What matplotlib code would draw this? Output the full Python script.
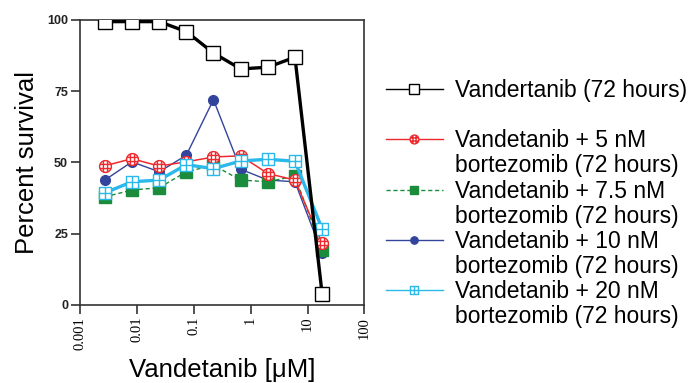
import numpy as np
import matplotlib.pyplot as plt
from matplotlib.path import Path
from matplotlib.lines import Line2D

# concentrations (uM), 3-fold dilutions
conc = [0.00274, 0.0082, 0.0247, 0.074, 0.222, 0.667, 2, 6, 18]

vand = [99.4, 99.4, 99.4, 95.9, 88.4, 82.8, 83.4, 86.9, 3.9]
bz5 = [48.8, 51.3, 48.7, 50.2, 51.9, 52.3, 46.1, 43.8, 21.6]
bz7 = [37.9, 40.3, 41.1, 46.7, 49.0, 43.8, 43.2, 45.2, 19.3]
bz10 = [43.8, 50.2, 46.7, 52.5, 72.0, 47.6, 43.8, 43.2, 18.1]
bz20 = [39.3, 43.2, 43.8, 49.2, 47.8, 50.5, 51.1, 50.4, 26.7]

labels = ['Vandertanib (72 hours)',
          'Vandetanib + 5 nM\nbortezomib (72 hours)',
          'Vandetanib + 7.5 nM\nbortezomib (72 hours)',
          'Vandetanib + 10 nM\nbortezomib (72 hours)',
          'Vandetanib + 20 nM\nbortezomib (72 hours)']

yticks = [0, 25, 50, 75, 100]
xticks = [0.001, 0.01, 0.1, 1, 10, 100]
xticklabels = ['0.001', '0.01', '0.1', '1', '10', '100']

# custom markers: circle with hash, square with cross
M, L = Path.MOVETO, Path.LINETO
circ = Path.unit_circle()
hash_lines = Path([[-0.35, -0.95], [-0.35, 0.95], [0.35, -0.95], [0.35, 0.95],
                   [-0.95, -0.35], [0.95, -0.35], [-0.95, 0.35], [0.95, 0.35]],
                  [M, L, M, L, M, L, M, L])
hash_circle = Path.make_compound_path(circ, hash_lines)
sq = Path([[-1, -1], [1, -1], [1, 1], [-1, 1], [-1, -1]], [M, L, L, L, Path.CLOSEPOLY])
cross = Path([[0, -1], [0, 1], [-1, 0], [1, 0]], [M, L, M, L])
sq_cross = Path.make_compound_path(sq, cross)

red = '#ee2a2e'
green = '#1b8c3c'
blue = '#33449c'
cyan = '#2bb8ea'

fig = plt.figure(figsize=(6.89, 3.83), dpi=100)
ax = fig.add_axes([0.116, 0.204, 0.413, 0.744])

h_blue, = ax.plot(conc, bz10, color=blue, lw=1.0, marker='o', ms=7,
                  mfc=blue, mec=blue, zorder=3)
h_green, = ax.plot(conc, bz7, color=green, lw=1.0, ls=(0, (3, 2)), marker='s', ms=8,
                   mfc=green, mec=green, zorder=3)
h_red, = ax.plot(conc, bz5, color=red, lw=1.1, marker=hash_circle, ms=8.5,
                 mfc='white', mec=red, mew=1.0, zorder=4)
h_cyan, = ax.plot(conc, bz20, color=cyan, lw=2.4, marker=sq_cross, ms=8,
                  mfc='white', mec=cyan, mew=1.0, zorder=5)
h_black, = ax.plot(conc, vand, color='black', lw=2.4, marker='s', ms=9.5,
                   mfc='white', mec='black', mew=1.0, zorder=6)

ax.set_xscale('log')
ax.set_xlim(0.001, 100)
ax.set_ylim(0, 100)
ax.set_yticks(yticks)
ax.set_yticklabels([str(v) for v in yticks], fontsize=9, fontweight='bold',
                   family='Liberation Sans', color='#222222')
ax.set_xticks(xticks)
ax.set_xticklabels(xticklabels, rotation=90, fontsize=10.5, family='Liberation Serif',
                   va='top')
ax.xaxis.set_minor_locator(plt.NullLocator())
ax.tick_params(direction='out', length=6.5, width=1.2, color='#333333', pad=2)
for s in ax.spines.values():
    s.set_linewidth(1.2)
    s.set_color('#333333')

ax.set_ylabel('Percent survival', fontsize=18.5, family='Liberation Sans', labelpad=6)
ax.set_xlabel('Vandetanib [\u03bcM]', fontsize=18.5, family='Liberation Sans', labelpad=6)

# legend: split two-line labels so handles sit on the first line
blank = Line2D([], [], color='none')
handles = [h_black, blank]
leg_labels = [labels[0], ' ']
for h, lab in zip([h_red, h_green, h_blue, h_cyan], labels[1:]):
    first, second = lab.split('\n')
    handles += [h, blank]
    leg_labels += [first, second]

leg = fig.legend(handles, leg_labels, loc='upper left', bbox_to_anchor=(0.560, 0.793),
                 frameon=False, prop={'family': 'Liberation Sans', 'size': 16.5},
                 handlelength=2.5, handletextpad=0.5, labelspacing=0.09,
                 borderpad=0, borderaxespad=0, markerscale=0.75)
for line in leg.get_lines():
    line.set_linewidth(1.0)

fig.savefig('out.png', dpi=100)
